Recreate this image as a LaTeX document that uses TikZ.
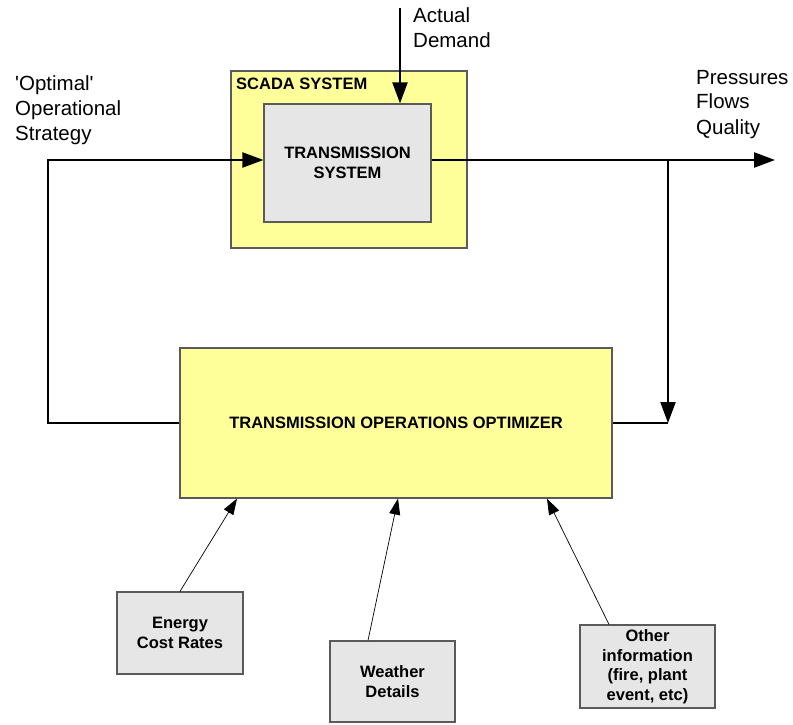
\documentclass[tikz,border=0pt]{standalone}
\usepackage{fontspec}
\setmainfont{Liberation Sans}
\usetikzlibrary{arrows.meta}
\definecolor{boxyellow}{HTML}{FFFF99}
\definecolor{boxgray}{HTML}{E6E6E6}
\definecolor{boxborder}{HTML}{5A5A5A}
\begin{document}
\begin{tikzpicture}[x=1pt,y=-1pt,
  yellowbox/.style={draw=boxborder,line width=1.2pt,fill=boxyellow,rectangle,inner sep=0pt},
  graybox/.style={draw=boxborder,line width=1.2pt,fill=boxgray,rectangle,inner sep=0pt,
    font=\bfseries\fontsize{16.5}{19.5}\selectfont,align=center},
  mainline/.style={line width=2.2pt,black},
  mainarrow/.style={mainline,-{Triangle[length=21pt,width=15pt]}},
  thinarrow/.style={line width=0.7pt,black,-{Triangle[length=16pt,width=11pt]}},
  plaintext/.style={font=\fontsize{20.5}{25}\selectfont,align=left,inner sep=0pt,anchor=base west}
]
\useasboundingbox (0,0) rectangle (793,725);

% boxes
\node[yellowbox,minimum width=236pt,minimum height=177pt] (scada) at (349,159.5) {};
\node[font=\bfseries\fontsize{16.5}{19.5}\selectfont,anchor=base west,inner sep=0pt] (scadalbl) at (236,90) {SCADA SYSTEM};
\node[graybox,minimum width=167pt,minimum height=118pt] (ts) at (347.5,163) {TRANSMISSION\\SYSTEM};
\node[yellowbox,minimum width=432pt,minimum height=150pt,font=\bfseries\fontsize{16.5}{19.5}\selectfont] (opt) at (396,423) {TRANSMISSION OPERATIONS OPTIMIZER};
\node[graybox,minimum width=126pt,minimum height=82pt] (energy) at (180,633) {Energy\\Cost Rates};
\node[graybox,minimum width=125pt,minimum height=81pt] (weather) at (392.5,681.5) {Weather\\Details};
\node[graybox,minimum width=135pt,minimum height=83pt] (other) at (647.5,666.5) {Other\\information\\(fire, plant\\event, etc)};

% texts (base anchor = last line baseline)
\node[plaintext] (demandtxt) at (413,48) {Actual\\Demand};
\node[plaintext] (strattxt) at (15,140) {\textquotesingle Optimal\textquotesingle\\Operational\\Strategy};
\node[plaintext] (outtxt) at (696,134) {Pressures\\Flows\\Quality};

% coordinates
\coordinate (adtop) at (400,8);
\coordinate (loopx) at (48,160);
\coordinate (junc) at (668,160);
\coordinate (outend) at (775,160);

% connectors
\draw[mainarrow] (adtop) -- (adtop |- ts.north);
\draw[mainarrow] ([yshift=3pt]ts.east) -- (outend);
\draw[mainarrow] (junc) -- (junc |- opt.east);
\draw[mainline] (opt.east) -- (junc |- opt.east);
\draw[mainarrow] (opt.west) -| (loopx) -- ([yshift=3pt]ts.west);

\draw[thinarrow] (energy.north) -- ([xshift=-159pt]opt.south);
\draw[thinarrow] ([xshift=-24.5pt]weather.north) -- ([xshift=2pt]opt.south);
\draw[thinarrow] ([xshift=-38.5pt]other.north) -- ([xshift=151pt]opt.south);
\end{tikzpicture}
\end{document}
